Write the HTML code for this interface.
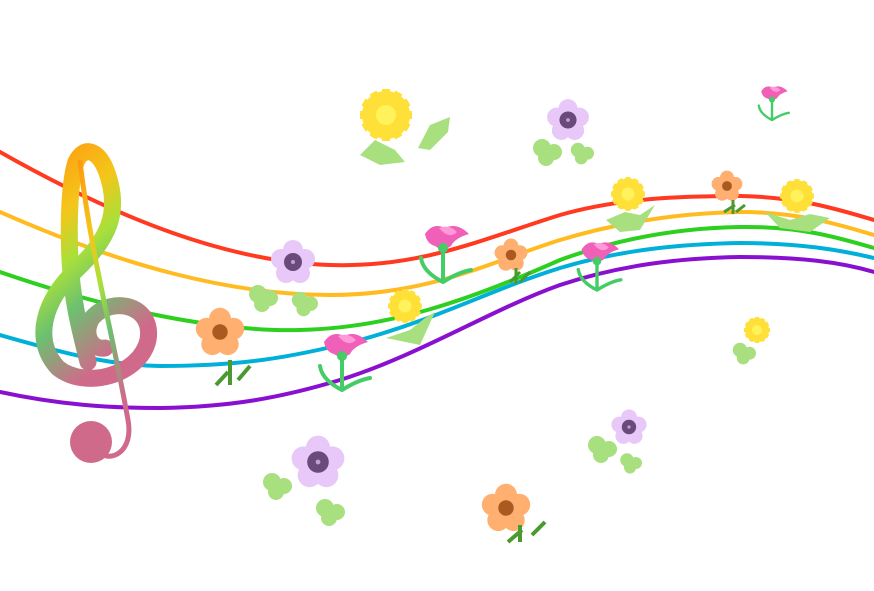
<!DOCTYPE html>
<html><head><meta charset="utf-8"><style>html,body{margin:0;padding:0;background:#fff}svg{display:block}</style></head>
<body>
<svg width="874" height="591" viewBox="0 0 874 591" xmlns="http://www.w3.org/2000/svg">
<defs>
<linearGradient id="cg" x1="0" y1="0" x2="0.4" y2="1">
<stop offset="0" stop-color="#ff9a10"/><stop offset="0.3" stop-color="#f4c61a"/><stop offset="0.5" stop-color="#a8e03a"/><stop offset="0.7" stop-color="#6cc070"/><stop offset="1" stop-color="#d06a8a"/></linearGradient>
<g id="daisy"><g fill="#ffe038">
<circle r="14"/><rect x="-4" y="-26" width="8" height="52"/><rect x="-4" y="-26" width="8" height="52" transform="rotate(30)"/><rect x="-4" y="-26" width="8" height="52" transform="rotate(60)"/><rect x="-4" y="-26" width="8" height="52" transform="rotate(90)"/><rect x="-4" y="-26" width="8" height="52" transform="rotate(120)"/><rect x="-4" y="-26" width="8" height="52" transform="rotate(150)"/><rect x="-4" y="-24" width="8" height="48" transform="rotate(15)"/><rect x="-4" y="-24" width="8" height="48" transform="rotate(45)"/><rect x="-4" y="-24" width="8" height="48" transform="rotate(75)"/><rect x="-4" y="-24" width="8" height="48" transform="rotate(105)"/><rect x="-4" y="-24" width="8" height="48" transform="rotate(135)"/><rect x="-4" y="-24" width="8" height="48" transform="rotate(165)"/></g><circle r="10" fill="#fff25a"/></g>
<g id="violet"><g fill="#e8c8f8"><circle cx="0" cy="-12" r="10"/><circle cx="12" cy="-3" r="10"/><circle cx="7" cy="11" r="10"/><circle cx="-7" cy="11" r="10"/><circle cx="-12" cy="-3" r="10"/></g><circle r="9" fill="#6a4a7a"/><circle r="2" fill="#bfa0d0"/></g>
<g id="orange"><g fill="#ffb070"><circle cx="0" cy="-12" r="10"/><circle cx="12" cy="-3" r="10"/><circle cx="7" cy="11" r="10"/><circle cx="-7" cy="11" r="10"/><circle cx="-12" cy="-3" r="10"/></g><circle r="7" fill="#a85a20"/></g>
<g id="tulip"><path d="M-18,-8 Q-10,-20 2,-14 Q14,-20 26,-8 Q12,-4 8,4 Q0,10 -8,4 Q-16,2 -18,-8Z" fill="#f060b8"/><path d="M-4,-14 Q6,-18 14,-10 Q6,-2 -4,-14Z" fill="#ff9ad8"/><circle cx="0" cy="6" r="5" fill="#44cc66"/><path d="M0,8 V40 M0,40 Q-20,30 -22,16 M0,40 Q16,30 28,28" stroke="#44cc66" stroke-width="4" fill="none" stroke-linecap="round"/></g>
<g id="leaf"><g fill="#a8e080"><circle r="9"/><circle cx="12" cy="4" r="8"/><circle cx="4" cy="10" r="8"/></g></g>
</defs>
<g fill="none" stroke-width="4" stroke-linecap="round">
<path d="M0,152 C120,220 230,262 330,265 C420,268 480,240 560,215 C620,198 680,196 740,196 C800,197 840,210 874,220" stroke="#ff3a20"/>
<path d="M0,212 C120,265 230,295 330,295 C430,295 490,262 560,240 C620,222 680,213 740,212 C800,212 840,225 874,235" stroke="#ffbb20"/>
<path d="M0,272 C110,310 220,332 300,330 C390,328 470,300 560,260 C620,238 680,228 740,227 C800,226 840,238 874,248" stroke="#2ed020"/>
<path d="M0,335 C70,355 110,365 160,366 C240,366 290,358 360,340 C440,318 490,290 560,268 C620,250 680,244 740,243 C800,243 840,250 874,258" stroke="#00b0d8"/>
<path d="M0,392 C60,405 110,408 160,408 C230,407 280,398 340,380 C420,355 490,310 560,285 C620,265 680,258 740,257 C800,257 840,262 874,272" stroke="#8a10d0"/>
</g>
<!-- treble clef -->
<g fill="none" stroke="url(#cg)" stroke-linecap="round">
<path d="M88,362 C80,330 72,300 70,260 C68,220 70,180 76,162 C84,145 98,150 106,170 C122,212 108,240 76,270 C44,300 32,340 58,368 C86,390 140,375 148,340 C154,305 112,295 92,318 C82,335 92,350 105,348" stroke-width="17"/>
<path d="M80,162 C92,260 112,330 128,420 C134,452 110,465 95,450" stroke-width="5"/>
</g>
<circle cx="91" cy="442" r="21" fill="#d06a8a"/>
<!-- flowers -->
<use href="#daisy" transform="translate(386,115)"/>
<path d="M360,155 L375,140 L395,150 L405,162 L380,165Z" fill="#a8e080"/><path d="M418,148 L430,125 L450,117 L448,132 L430,150Z" fill="#a8e080"/>
<use href="#violet" transform="translate(568,120) scale(0.95)"/><use href="#leaf" transform="translate(542,148)"/><use href="#leaf" transform="translate(578,150) scale(0.8)"/>
<use href="#tulip" transform="translate(772,96) scale(0.6)"/>
<use href="#daisy" transform="translate(628,194) scale(0.65)"/><path d="M606,220 L625,212 L640,215 L655,205 L640,230 L620,232Z" fill="#a8e080"/>
<use href="#orange" transform="translate(727,186) scale(0.7)"/><path d="M724,212 L735,205 M736,212 L745,205 M733,200 V214" stroke="#4a9a30" stroke-width="3"/>
<use href="#daisy" transform="translate(797,196) scale(0.65)"/><path d="M765,212 L790,220 L810,214 L830,218 L810,232 L780,228Z" fill="#a8e080"/>
<use href="#violet" transform="translate(293,262)"/><use href="#leaf" transform="translate(258,294)"/><use href="#leaf" transform="translate(300,300) scale(0.9)"/>
<use href="#tulip" transform="translate(443,242)"/>
<use href="#orange" transform="translate(511,255) scale(0.75)"/><path d="M510,282 L520,272 M520,282 L530,272 M516,268 V284" stroke="#4a9a30" stroke-width="3"/>
<use href="#tulip" transform="translate(597,256) scale(0.85)"/>
<use href="#daisy" transform="translate(405,306) scale(0.65)"/><path d="M386,338 L410,330 L425,318 L435,312 L420,345Z" fill="#a8e080"/>
<use href="#orange" transform="translate(220,332) scale(1.1)"/><path d="M216,385 L228,372 M238,380 L250,366 M230,360 V385" stroke="#4a9a30" stroke-width="4"/>
<use href="#tulip" transform="translate(342,350)"/>
<use href="#daisy" transform="translate(757,330) scale(0.5)"/><use href="#leaf" transform="translate(740,350) scale(0.8)"/>
<use href="#violet" transform="translate(629,427) scale(0.8)"/><use href="#leaf" transform="translate(597,445)"/><use href="#leaf" transform="translate(627,460) scale(0.75)"/>
<use href="#violet" transform="translate(318,462) scale(1.2)"/><use href="#leaf" transform="translate(272,482)"/><use href="#leaf" transform="translate(325,508)"/>
<use href="#orange" transform="translate(506,508) scale(1.1)"/><path d="M508,542 L522,530 M520,542 V525 M532,535 L545,522" stroke="#4a9a30" stroke-width="4"/>
</svg>
</body></html>
